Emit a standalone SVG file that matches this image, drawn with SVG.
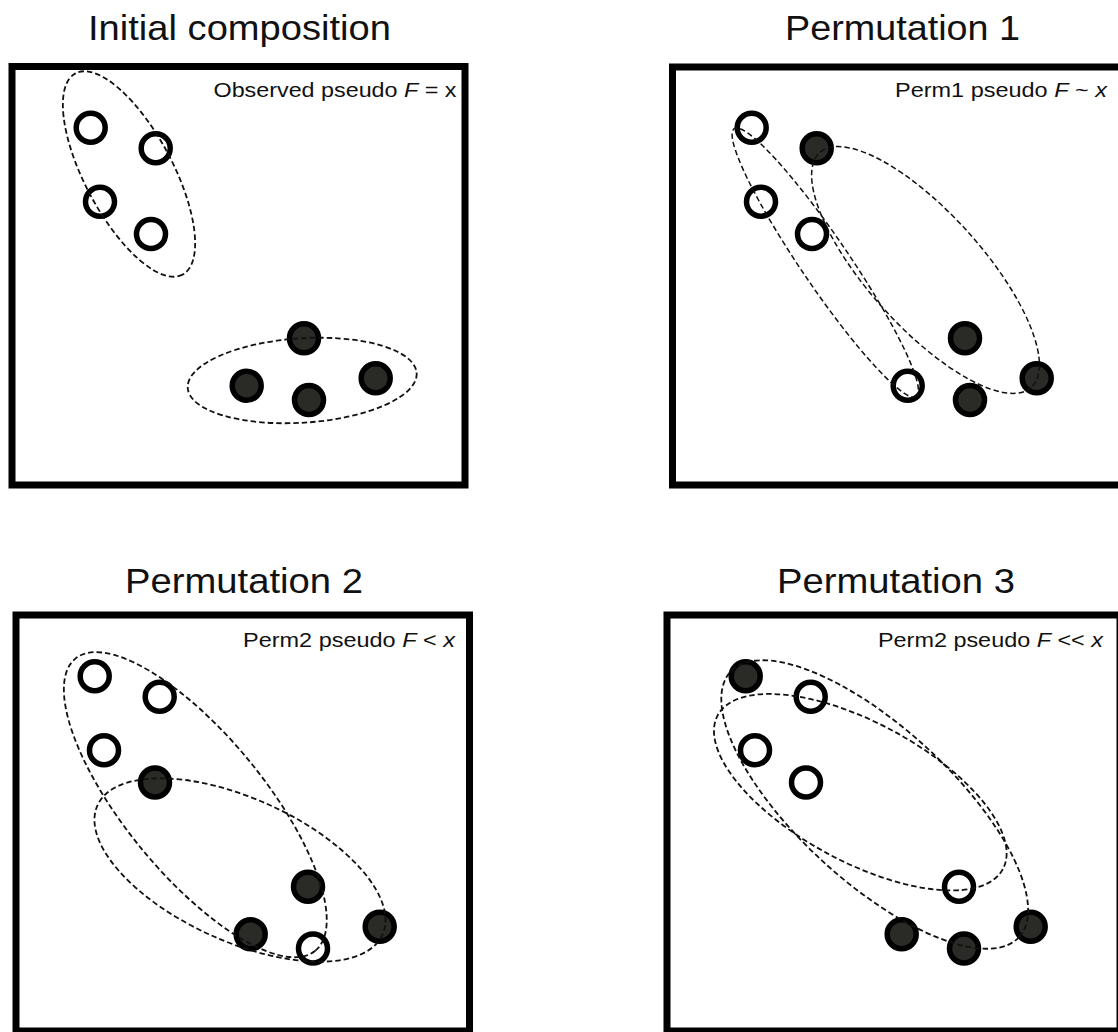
<svg xmlns="http://www.w3.org/2000/svg" width="1118" height="1032" viewBox="0 0 1118 1032">
<style>
.title{font-family:"Liberation Sans",Arial,sans-serif;font-size:35px;fill:#111}
.lab{font-family:"Liberation Sans",Arial,sans-serif;font-size:21px;fill:#111}
.it{font-style:italic}
.box{fill:none;stroke:#000;stroke-width:7;stroke-linejoin:miter}
.open{fill:none;stroke:#000;stroke-width:5.5}
.full{fill:#2a2a26;stroke:#000;stroke-width:5.5}
.grp{fill:none;stroke:#111;stroke-width:1.8;stroke-dasharray:5.5 3}
.thin{stroke-width:1.5}
</style>
<rect width="1118" height="1032" fill="#fff"/>

<!-- Panel 1 -->
<g id="panel-initial">
  <text class="title" x="239.5" y="40" text-anchor="middle" textLength="303" lengthAdjust="spacingAndGlyphs">Initial composition</text>
  <rect class="box" x="12" y="66.5" width="453" height="418.5"/>
  <text class="lab" x="213.5" y="96.7" textLength="243" lengthAdjust="spacingAndGlyphs">Observed pseudo <tspan class="it">F</tspan> = x</text>
  <g id="p1-nodes">
    <g id="p1-c1"><circle class="open" cx="90.7" cy="127.7" r="14.5"/></g>
    <g id="p1-c2"><circle class="open" cx="155.7" cy="148.3" r="14.5"/></g>
    <g id="p1-c3"><circle class="open" cx="100" cy="201.7" r="14.5"/></g>
    <g id="p1-c4"><circle class="open" cx="151" cy="234" r="14.5"/></g>
    <g id="p1-c5"><circle class="full" cx="304" cy="338.3" r="14.5"/></g>
    <g id="p1-c6"><circle class="full" cx="246.7" cy="385.7" r="14.5"/></g>
    <g id="p1-c7"><circle class="full" cx="309" cy="400" r="14.5"/></g>
    <g id="p1-c8"><circle class="full" cx="375.7" cy="378.3" r="14.5"/></g>
  </g>
  <g id="p1-connectors">
    <ellipse class="grp" cx="129" cy="174" rx="114" ry="44" transform="rotate(62 129 174)"/>
    <ellipse class="grp" cx="302.2" cy="380.5" rx="114.7" ry="42.2" transform="rotate(-3.7 302.2 380.5)"/>
  </g>
</g>

<!-- Panel 2 -->
<g id="panel-perm1">
  <text class="title" x="902.5" y="39.5" text-anchor="middle" textLength="235" lengthAdjust="spacingAndGlyphs">Permutation 1</text>
  <rect class="box" x="672.5" y="67" width="453" height="418"/>
  <text class="lab" x="895" y="97.3" textLength="212" lengthAdjust="spacingAndGlyphs">Perm1 pseudo <tspan class="it">F</tspan> ~ <tspan class="it">x</tspan></text>
  <g id="p2-nodes" transform="translate(661 0)">
    <g id="p2-c1"><circle class="open" cx="90.7" cy="127.7" r="14.5"/></g>
    <g id="p2-c2"><circle class="full" cx="155.7" cy="148.3" r="14.5"/></g>
    <g id="p2-c3"><circle class="open" cx="100" cy="201.7" r="14.5"/></g>
    <g id="p2-c4"><circle class="open" cx="151" cy="234" r="14.5"/></g>
    <g id="p2-c5"><circle class="full" cx="304" cy="338.3" r="14.5"/></g>
    <g id="p2-c6"><circle class="open" cx="246.7" cy="385.7" r="14.5"/></g>
    <g id="p2-c7"><circle class="full" cx="309" cy="400" r="14.5"/></g>
    <g id="p2-c8"><circle class="full" cx="375.7" cy="378.3" r="14.5"/></g>
  </g>
  <g id="p2-connectors" transform="translate(661 0)">
    <ellipse class="grp thin" cx="164.3" cy="262.7" rx="162" ry="24" transform="rotate(55.8 164.3 262.7)"/>
    <ellipse class="grp thin" cx="264.5" cy="270" rx="158" ry="57" transform="rotate(48 264.5 270)"/>
  </g>
</g>

<!-- Panel 3 -->
<g id="panel-perm2">
  <text class="title" x="244" y="592.7" text-anchor="middle" textLength="238" lengthAdjust="spacingAndGlyphs">Permutation 2</text>
  <rect class="box" x="16" y="615" width="453.5" height="416"/>
  <text class="lab" x="243" y="646.7" textLength="212" lengthAdjust="spacingAndGlyphs">Perm2 pseudo <tspan class="it">F</tspan> &lt; <tspan class="it">x</tspan></text>
  <g id="p3-nodes" transform="translate(4 548.5)">
    <g id="p3-c1"><circle class="open" cx="90.7" cy="127.7" r="14.5"/></g>
    <g id="p3-c2"><circle class="open" cx="155.7" cy="148.3" r="14.5"/></g>
    <g id="p3-c3"><circle class="open" cx="100" cy="201.7" r="14.5"/></g>
    <g id="p3-c4"><circle class="full" cx="151" cy="234" r="14.5"/></g>
    <g id="p3-c5"><circle class="full" cx="304" cy="338.3" r="14.5"/></g>
    <g id="p3-c6"><circle class="full" cx="246.7" cy="385.7" r="14.5"/></g>
    <g id="p3-c7"><circle class="open" cx="309" cy="400" r="14.5"/></g>
    <g id="p3-c8"><circle class="full" cx="375.7" cy="378.3" r="14.5"/></g>
  </g>
  <g id="p3-connectors" transform="translate(4 548.5)">
    <ellipse class="grp" cx="191.3" cy="256.2" rx="189" ry="69.5" transform="rotate(50.6 191.3 256.2)"/>
    <ellipse class="grp" cx="236" cy="321.5" rx="156.5" ry="71.4" transform="rotate(24.4 236 321.5)"/>
  </g>
</g>

<!-- Panel 4 -->
<g id="panel-perm3">
  <text class="title" x="896" y="592.7" text-anchor="middle" textLength="238" lengthAdjust="spacingAndGlyphs">Permutation 3</text>
  <rect class="box" x="667" y="615" width="453" height="416"/>
  <text class="lab" x="878" y="646.7" textLength="225" lengthAdjust="spacingAndGlyphs">Perm2 pseudo <tspan class="it">F</tspan> &lt;&lt; <tspan class="it">x</tspan></text>
  <g id="p4-nodes" transform="translate(655 548.5)">
    <g id="p4-c1"><circle class="full" cx="90.7" cy="127.7" r="14.5"/></g>
    <g id="p4-c2"><circle class="open" cx="155.7" cy="148.3" r="14.5"/></g>
    <g id="p4-c3"><circle class="open" cx="100" cy="201.7" r="14.5"/></g>
    <g id="p4-c4"><circle class="open" cx="151" cy="234" r="14.5"/></g>
    <g id="p4-c5"><circle class="open" cx="304" cy="338.3" r="14.5"/></g>
    <g id="p4-c6"><circle class="full" cx="246.7" cy="385.7" r="14.5"/></g>
    <g id="p4-c7"><circle class="full" cx="309" cy="400" r="14.5"/></g>
    <g id="p4-c8"><circle class="full" cx="375.7" cy="378.3" r="14.5"/></g>
  </g>
  <g id="p4-connectors" transform="translate(655 548.5)">
    <ellipse class="grp" cx="219.7" cy="256" rx="196" ry="77" transform="rotate(42.6 219.7 256)"/>
    <ellipse class="grp" cx="205.3" cy="243.7" rx="162" ry="69.5" transform="rotate(28.35 205.3 243.7)"/>
  </g>
</g>
</svg>
